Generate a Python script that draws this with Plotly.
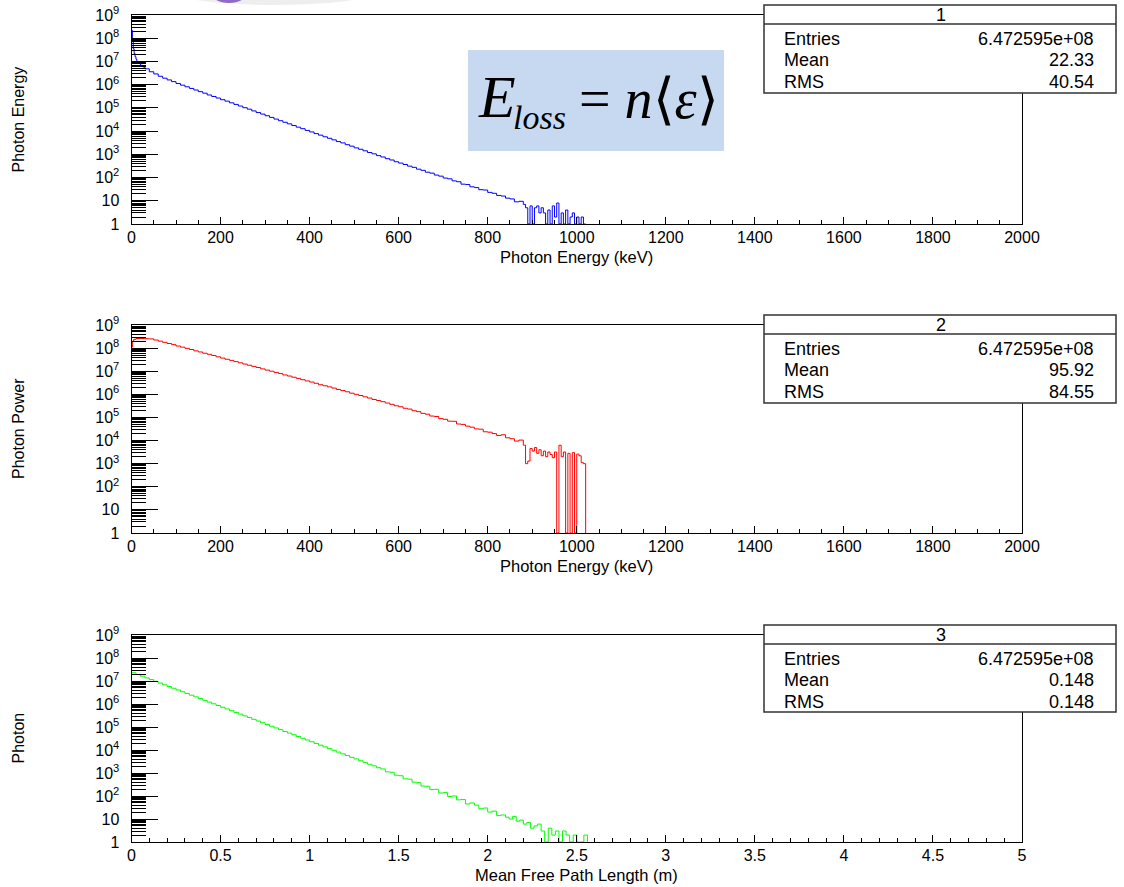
import plotly.graph_objects as go

W, H = 1124, 887

# ---------------- data ----------------
# Panel 1: photon energy spectrum (keV bin edges, counts)
energy_edges_1 = [0, 2, 4, 6, 8, 10, 12, 15, 20, 25, 30] + list(range(40, 881, 10)) + list(range(885, 1021, 5))
energy_counts_1 = [
    2.2e8, 7.9e7, 3.5e7, 2.2e7, 1.6e7, 1.26e7, 1.0e7, 8.3e6, 6.8e6, 5.8e6,
    4.8e6, 3.6e6, 2.9e6, 2.3e6, 1.9e6, 1.6e6, 1.35e6, 1.12e6, 9.5e5, 8.1e5,
    6.9e5, 5.9e5, 5.0e5, 4.3e5, 3.6e5, 3.1e5, 2.65e5, 2.25e5, 1.95e5, 1.65e5,
    1.41e5, 1.2e5, 1.02e5, 8.8e4, 7.4e4, 6.3e4, 5.4e4, 4.6e4, 3.9e4, 3.3e4,
    2.8e4, 2.4e4, 2.05e4, 1.74e4, 1.48e4, 1.27e4, 1.07e4, 9.2e3, 7.8e3, 6.7e3,
    5.7e3, 4.9e3, 4.2e3, 3.55e3, 3.1e3, 2.6e3, 2.25e3, 1.9e3, 1.65e3, 1.42e3,
    1.2e3, 1.05e3, 880, 770, 650, 570, 480, 420, 365, 310,
    275, 230, 205, 170, 155, 128, 115, 95, 88, 72,
    66, 52, 50, 40, 37, 30, 29, 23, 21, 17,
    16, 13, 12, 9, 9.5,
    7, 5, 1, 6, 1, 5, 6, 3, 5, 3, 1, 4, 1, 6, 2, 8, 1, 3, 1, 4, 1, 2, 3, 1, 2, 1, 2, 1,
]

# Panel 2: photon power spectrum
energy_edges_2 = [0, 2, 5, 10, 20, 30, 40] + list(range(50, 881, 10)) + list(range(885, 1021, 5))
power_counts_2 = [
    1.1e8, 2.0e8, 2.4e8, 2.6e8, 2.6e8, 2.55e8,
    2.5e8, 2.24e8, 2.0e8, 1.78e8, 1.58e8, 1.41e8, 1.23e8, 1.10e8, 9.8e7, 8.7e7,
    7.6e7, 6.8e7, 6.0e7, 5.4e7, 4.8e7, 4.2e7, 3.7e7, 3.3e7, 2.95e7, 2.6e7,
    2.3e7, 2.04e7, 1.82e7, 1.62e7, 1.45e7, 1.26e7, 1.12e7, 1.0e7, 8.9e6, 7.9e6,
    6.9e6, 6.2e6, 5.5e6, 4.9e6, 4.3e6, 3.8e6, 3.4e6, 3.0e6, 2.6e6, 2.35e6,
    2.1e6, 1.86e6, 1.62e6, 1.45e6, 1.29e6, 1.12e6, 1.0e6, 8.9e5, 7.8e5, 6.9e5,
    6.0e5, 5.4e5, 4.8e5, 4.2e5, 3.7e5, 3.2e5, 2.9e5, 2.5e5, 2.3e5, 1.95e5,
    1.78e5, 1.5e5, 1.38e5, 1.15e5, 1.1e5, 8.9e4, 8.3e4, 6.9e4, 6.8e4, 5.2e4,
    5.0e4, 4.2e4, 3.8e4, 3.2e4, 3.1e4, 2.4e4, 2.3e4, 2.0e4, 1.66e4, 1.78e4,
    1.32e4, 1.2e4, 9.5e3, 1.05e4,
    6.3e3, 1.0e3, 1.3e3, 4.5e3, 3.5e3, 5.0e3, 2.8e3, 4.0e3, 2.2e3, 3.5e3,
    2.0e3, 3.2e3, 2.5e3, 1.8e3, 3.2e3, 1, 6.3e3, 2.0e3, 3.2e3, 1,
    2.8e3, 1, 3.0e3, 1, 2.6e3, 2.2e3, 1.1e3, 1.0e3,
]

# Panel 3: mean free path length (m)
path_edges_3 = [round(0.025 * i, 3) for i in range(85)] + [round(2.10 + 0.02 * i, 2) for i in range(1, 24)]
path_counts_3 = [
    2.29e7, 1.93e7, 1.62e7, 1.36e7, 1.15e7, 9.65e6, 8.12e6, 6.83e6, 5.75e6, 4.84e6,
    4.07e6, 3.42e6, 2.88e6, 2.42e6, 2.04e6, 1.72e6, 1.44e6, 1.21e6, 1.02e6, 8.6e5,
    7.24e5, 6.09e5, 5.12e5, 4.31e5, 3.63e5, 3.05e5, 2.57e5, 2.16e5, 1.82e5, 1.53e5,
    1.29e5, 1.08e5, 9.1e4, 7.7e4, 6.4e4, 5.4e4, 4.6e4, 3.85e4, 3.24e4, 2.73e4,
    2.29e4, 1.93e4, 1.62e4, 1.37e4, 1.15e4, 9.7e3, 8.1e3, 6.8e3, 5.8e3, 4.8e3,
    4.1e3, 3.4e3, 2.9e3, 2.4e3, 2.05e3, 1.7e3, 1.5e3, 1.12e3, 1.08e3, 800,
    760, 560, 540, 400, 380, 270, 265, 190, 195, 135,
    140, 95, 100, 68, 70, 45, 50, 40, 28, 30,
    20, 22, 14, 15,
    12, 10, 13, 8, 9, 6, 7, 4, 5, 6, 3, 1, 4, 2, 3, 1, 3, 2, 1, 2, 1, 1, 2,
]

stats_titles = ["1", "2", "3"]
stats_entries = ["6.472595e+08", "6.472595e+08", "6.472595e+08"]
stats_means = ["22.33", "95.92", "0.148"]
stats_rms = ["40.54", "84.55", "0.148"]

x_titles = ["Photon Energy (keV)", "Photon Energy (keV)", "Mean Free Path Length (m)"]
y_titles = ["Photon Energy", "Photon Power", "Photon"]
colors = ["#0000ff", "#ff0000", "#00ff00"]

decade_vals = [10 ** n for n in range(10)]
decade_text = ["1", "10"] + [f"10<sup>{n}</sup>" for n in range(2, 10)]
minor_vals = [k * 10 ** n for n in range(9) for k in range(2, 10)]

# ---------------- layout geometry (pixels) ----------------
def px(x):
    return x / W

def py(y):
    return 1 - y / H

X0, X1 = 131.5, 1022
panel_tb = [(15, 224), (325, 533), (635, 842)]
x_ranges = [(0, 2000, 200, 50), (0, 2000, 200, 50), (0, 5, 0.5, 0.1)]
stats_boxes = [(5, 24, 93), (315, 334, 403), (625, 644, 712)]

FONT = "Liberation Sans, Arial, Helvetica, sans-serif"
SERIF = "Liberation Serif, Times New Roman, serif"

fig = go.Figure()
edges_list = [energy_edges_1, energy_edges_2, path_edges_3]
counts_list = [energy_counts_1, power_counts_2, path_counts_3]

for i in range(3):
    edges, vals = edges_list[i], counts_list[i]
    xs = list(edges) + [edges[-1]]
    ys = list(vals) + [vals[-1], 1]
    sfx = "" if i == 0 else str(i + 1)
    fig.add_trace(go.Scatter(
        x=xs, y=ys, mode="lines", line=dict(color=colors[i], width=1, shape="hv"),
        xaxis="x" + sfx, yaxis="y" + sfx, showlegend=False, hoverinfo="skip",
    ))

layout = dict(
    width=W, height=H, margin=dict(l=0, r=0, t=0, b=0),
    paper_bgcolor="white", plot_bgcolor="white", showlegend=False,
    font=dict(family=FONT, color="black"),
)

for i in range(3):
    top, bot = panel_tb[i]
    xmin, xmax, dt, mdt = x_ranges[i]
    sfx = "" if i == 0 else str(i + 1)
    layout["xaxis" + sfx] = dict(
        domain=[px(X0), px(X1)], anchor="y" + sfx, range=[xmin, xmax],
        tick0=0, dtick=dt, ticks="inside", ticklen=7, tickwidth=1, tickcolor="black",
        showline=True, linecolor="black", linewidth=1, mirror=True,
        showgrid=False, zeroline=False,
        minor=dict(dtick=mdt, tick0=0, ticks="inside", ticklen=4, tickwidth=1, tickcolor="black", showgrid=False),
        tickfont=dict(family=FONT, size=16, color="black"), ticklabelstandoff=-1,
        automargin=False, fixedrange=True,
    )
    layout["yaxis" + sfx] = dict(
        domain=[py(bot), py(top)], anchor="x" + sfx, type="log", range=[0, 9],
        tickmode="array", tickvals=decade_vals, ticktext=decade_text,
        ticks="inside", ticklen=26, tickwidth=1, tickcolor="black",
        showline=True, linecolor="black", linewidth=1, mirror=True,
        showgrid=False, zeroline=False,
        minor=dict(tickmode="array", tickvals=minor_vals, ticks="inside", ticklen=14, tickwidth=1, tickcolor="black", showgrid=False),
        tickfont=dict(family=FONT, size=16, color="black"), ticklabelstandoff=8,
        automargin=False, fixedrange=True,
    )

shapes = []
annotations = []

# faint purple object cut off at top of slide
shapes.append(dict(type="circle", xref="paper", yref="paper", x0=px(150), x1=px(400), y0=py(5), y1=py(-40),
                   fillcolor="rgba(160,160,160,0.18)", line=dict(width=0), layer="above"))
shapes.append(dict(type="circle", xref="paper", yref="paper", x0=px(210), x1=px(248), y0=py(3), y1=py(-20),
                   fillcolor="rgba(120,70,190,0.8)", line=dict(width=0), layer="above"))

for i in range(3):
    top, bot = panel_tb[i]
    btop, bline, bbot = stats_boxes[i]
    shapes.append(dict(type="rect", xref="paper", yref="paper", x0=px(764), x1=px(1116), y0=py(bbot), y1=py(btop),
                       fillcolor="white", line=dict(color="#333333", width=1.5), layer="above"))
    shapes.append(dict(type="line", xref="paper", yref="paper", x0=px(764), x1=px(1116), y0=py(bline), y1=py(bline),
                       line=dict(color="#333333", width=1.5), layer="above"))
    annotations.append(dict(xref="paper", yref="paper", x=px(941), y=py((btop + bline) / 2 + 0.5), text=stats_titles[i],
                            showarrow=False, xanchor="center", yanchor="middle", font=dict(family=FONT, size=18)))
    rows = [("Entries", stats_entries[i]), ("Mean", stats_means[i]), ("RMS", stats_rms[i])]
    row_y = [bline + 14.5, bline + 36, bline + 58]
    for (lab, val), ry in zip(rows, row_y):
        annotations.append(dict(xref="paper", yref="paper", x=px(782), y=py(ry), text=lab, showarrow=False,
                                xanchor="left", yanchor="middle", font=dict(family=FONT, size=18)))
        annotations.append(dict(xref="paper", yref="paper", x=px(1096), y=py(ry), text=val, showarrow=False,
                                xanchor="right", yanchor="middle", font=dict(family=FONT, size=18)))
    # axis titles
    annotations.append(dict(xref="paper", yref="paper", x=px((X0 + X1) / 2), y=py(bot + 33), text=x_titles[i],
                            showarrow=False, xanchor="center", yanchor="middle", font=dict(family=FONT, size=16.5)))
    annotations.append(dict(xref="paper", yref="paper", x=px(18), y=py((top + bot) / 2), text=y_titles[i],
                            showarrow=False, xanchor="center", yanchor="middle", textangle=-90,
                            font=dict(family=FONT, size=16)))

# equation box
shapes.append(dict(type="rect", xref="paper", yref="paper", x0=px(468), x1=px(724), y0=py(151), y1=py(50),
                   fillcolor="rgb(198,217,240)", line=dict(width=0), layer="above"))
annotations.append(dict(xref="paper", yref="paper", x=px(476), y=py(97), text="<i>E</i>",
                        showarrow=False, xanchor="left", yanchor="middle",
                        font=dict(family=SERIF, size=60, color="black")))
annotations.append(dict(xref="paper", yref="paper", x=px(511), y=py(118), text="<i>loss</i>",
                        showarrow=False, xanchor="left", yanchor="middle",
                        font=dict(family=SERIF, size=34, color="black")))
annotations.append(dict(xref="paper", yref="paper", x=px(577), y=py(99),
                        text="= <i>n</i>\u27e8<i>\u03b5</i>\u27e9",
                        showarrow=False, xanchor="left", yanchor="middle",
                        font=dict(family=SERIF, size=56, color="black")))

layout["shapes"] = shapes
layout["annotations"] = annotations
fig.update_layout(**layout)
fig.write_html("out.html", post_script="document.body.style.margin='0px';",
               config={"displayModeBar": False})
